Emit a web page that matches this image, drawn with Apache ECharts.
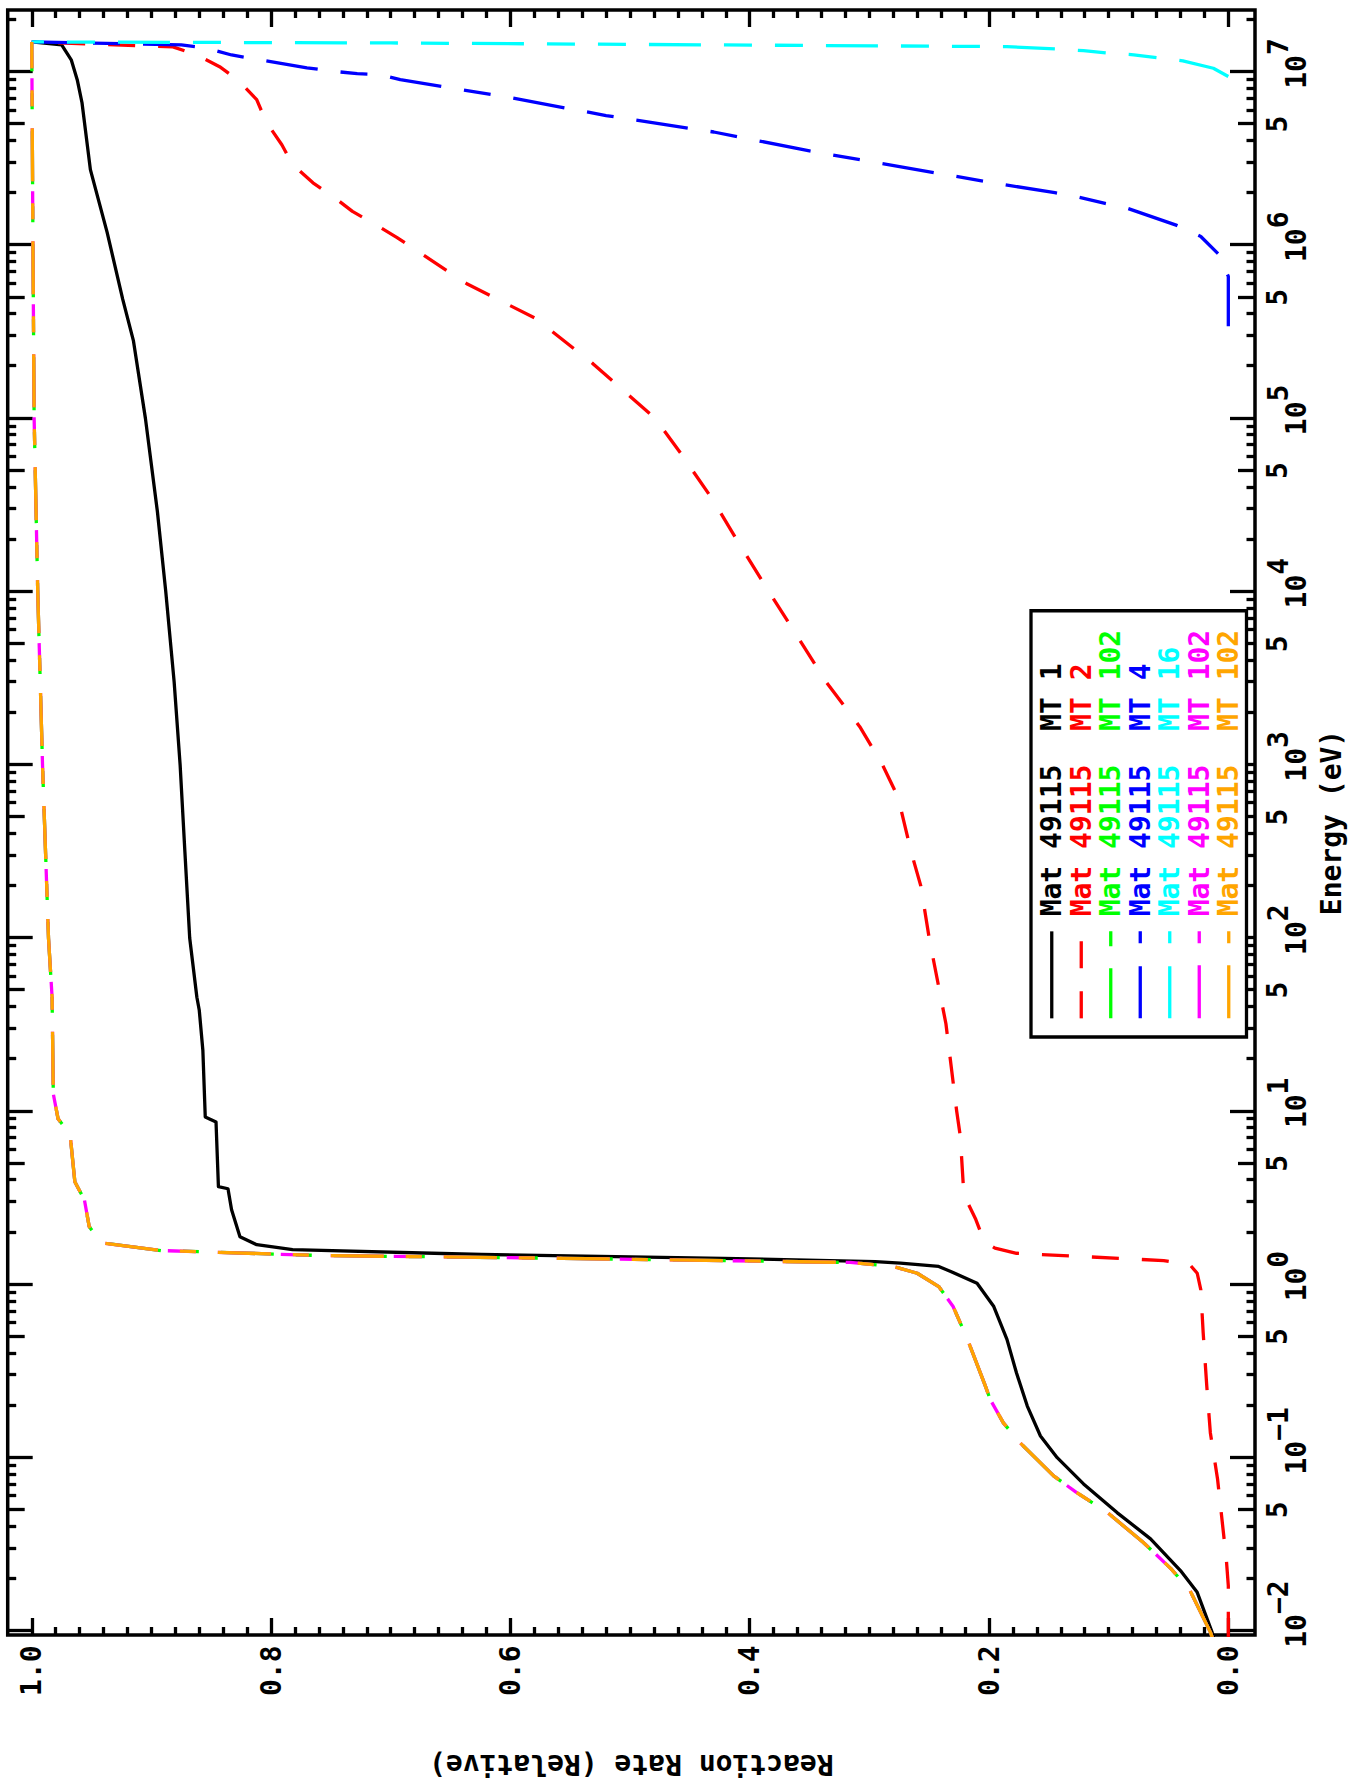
<!DOCTYPE html>
<html><head><meta charset="utf-8">
<script src="https://cdn.jsdelivr.net/npm/echarts@6/dist/echarts.min.js"></script>
<style>
html,body{margin:0;padding:0;background:#fff;width:1350px;height:1786px;overflow:hidden;}
#chart{position:absolute;left:0;top:0;width:1786px;height:1350px;transform-origin:0 0;transform:translate(0,1786px) rotate(-90deg);background:#fff;}
</style></head><body><div id="chart"></div>
<script>
// ---------------- data (energy in eV, relative reaction rate) ----------------
const seriesNames = ['Mat 49115  MT 1', 'Mat 49115  MT 2', 'Mat 49115  MT 102', 'Mat 49115  MT 4',
                     'Mat 49115  MT 16', 'Mat 49115  MT 102 ', 'Mat 49115  MT 102  '];
const seriesColors = ['#000000', '#ff0000', '#00ff00', '#0000ff', '#00ffff', '#ff00ff', '#ffa500'];

const totalRate = [[0.009,0.012],[0.00984,0.0136],[0.0167,0.026],[0.0223,0.040],[0.0340,0.065],[0.0482,0.093],
  [0.0706,0.121],[0.100,0.143],[0.1334,0.157],[0.1986,0.168],[0.308,0.177],[0.482,0.185],[0.746,0.196],
  [1.016,0.210],[1.189,0.232],[1.271,0.242],[1.327,0.274],[1.355,0.295],[1.416,0.422],[1.489,0.624],
  [1.589,0.782],[1.698,0.812],[1.888,0.826],[2.70,0.833],[3.57,0.836],[3.67,0.844],[8.67,0.846],[9.27,0.855],
  [22.5,0.857],[38.3,0.860],[45.5,0.862],[100,0.868],[313,0.872],[1000,0.876],[3010,0.881],[1.0e4,0.888],
  [2.9e4,0.895],[1.0e5,0.905],[2.8e5,0.915],[4.88e5,0.924],[1.186e6,0.937],[2.73e6,0.951],[6.64e6,0.958],
  [9.02e6,0.962],[1.175e7,0.967],[1.432e7,0.975],[1.49e7,1.0]];

const elasticRate = [[0.009,0.0],[0.0182,0.0],[0.0261,0.0017],[0.0753,0.009],[0.139,0.015],[0.259,0.018],
  [0.525,0.021],[0.933,0.023],[1.161,0.026],[1.297,0.032],[1.374,0.054],[1.449,0.121],[1.514,0.177],
  [1.62,0.195],[1.77,0.204],[2.37,0.211],[3.30,0.221],[7.2,0.224],[10,0.227],[32,0.236],[100,0.250],
  [200,0.257],[313,0.265],[650,0.276],[1000,0.289],[1660,0.308],[3000,0.336],[5500,0.360],[1.0e4,0.384],
  [1.85e4,0.408],[3.4e4,0.431],[6.2e4,0.457],[1.0e5,0.479],[2.07e5,0.531],[3.78e5,0.579],[5.96e5,0.636],
  [1.11e6,0.695],[1.318e6,0.713],[1.567e6,0.732],[1.905e6,0.748],[2.29e6,0.765],[2.92e6,0.782],
  [3.80e6,0.791],[5.13e6,0.804],[6.92e6,0.812],[9.02e6,0.828],[1.072e7,0.843],[1.253e7,0.862],
  [1.396e7,0.882],[1.49e7,1.0]];

const captureRate = [[0.009,0.013],[0.00984,0.015],[0.0171,0.032],[0.0229,0.048],[0.0324,0.071],[0.0482,0.101],
  [0.0631,0.127],[0.0785,0.146],[0.1219,0.174],[0.1589,0.188],[0.2168,0.199],[0.2588,0.203],[0.482,0.218],
  [0.746,0.230],[0.973,0.242],[1.161,0.260],[1.271,0.280],[1.34,0.316],[1.416,0.556],[1.469,0.758],
  [1.57,0.892],[1.73,0.939],[1.89,0.946],[2.16,0.952],[3.08,0.956],[3.92,0.964],[7.40,0.968],[9.04,0.978],
  [12.6,0.982],[45.5,0.983],[100,0.986],[1000,0.991],[1.0e4,0.995],[1.0e5,0.998],[1.0e6,0.999],[1.49e7,1.0]];

const inelasticRate = [[3.4e5,0.0],[6.6e5,0.0],[8.85e5,0.008],[1.122e6,0.023],[1.30e6,0.043],[1.63e6,0.084],
  [1.74e6,0.103],[1.89e6,0.125],[2.01e6,0.145],[2.24e6,0.188],[2.8e6,0.27],[3.5e6,0.35],[4.5e6,0.43],
  [5.6e6,0.52],[7.1e6,0.60],[9.02e6,0.692],[9.64e6,0.709],[9.77e6,0.728],[1.014e7,0.751],[1.057e7,0.770],
  [1.189e7,0.814],[1.253e7,0.833],[1.377e7,0.855],[1.432e7,0.875],[1.49e7,1.0]];

const n2nRate = [[9.42e6,0.0],[1.05e7,0.0125],[1.159e7,0.038],[1.199e7,0.055],[1.256e7,0.079],[1.282e7,0.099],
  [1.327e7,0.121],[1.352e7,0.140],[1.40e7,0.185],[1.47e7,0.70],[1.49e7,1.0]];

const seriesData = [totalRate, elasticRate, captureRate, inelasticRate, n2nRate, captureRate, captureRate];
const seriesDash = ['solid', [27,23], [53,22,16,22], [52,23,27,23], [52,23,28,23,28,23], [53,22,28,10], [53,22,16,22]];
const seriesDashOffset = [0, 0, 3, 0, 0, 0, 0];

// axis ranges and tick values
const E_MIN = 0.009471, E_MAX = 2.278e7;
const RATE_MIN = -0.0223, RATE_MAX = 1.0201;
const decadeExp = [-2,-1,0,1,2,3,4,5,6,7];
const rateMajor = [0, 0.2, 0.4, 0.6, 0.8, 1.0];

// ---------------- build ----------------
const FONT = 'DejaVu Sans Mono';
const LOG_MIN = Math.log10(E_MIN), LOG_MAX = Math.log10(E_MAX);
const fiveTicks = decadeExp.slice(0, 9).map(n => n + Math.log10(5));
const minorTicks = [];
for (let n = -3; n <= 7; n++) for (const k of [2,3,4,6,7,8,9]) {
  const v = n + Math.log10(k); if (v > LOG_MIN && v < LOG_MAX) minorTicks.push(v);
}
const rateMinor = []; for (let i = 1; i < 50; i++) if (i % 10) rateMinor.push(i / 50);

const txt = {fontFamily: FONT, fontWeight: 'bold', fontSize: 28, color: '#000'};
const CW = 16.86;

function tickX(pos, values, len, label, extra) {
  return Object.assign({
    type: 'value', position: pos, min: LOG_MIN, max: LOG_MAX, gridIndex: 0,
    axisLine: {show: false, onZero: false}, splitLine: {show: false},
    axisTick: {show: true, inside: true, length: len, customValues: values, lineStyle: {color: '#000', width: 3.3}},
    axisLabel: label ? Object.assign({customValues: values}, label) : {show: false},
    silent: true
  }, extra || {});
}
function tickY(pos, values, len, label, extra) {
  return Object.assign({
    type: 'value', position: pos, min: RATE_MIN, max: RATE_MAX, gridIndex: 0,
    axisLine: {show: false, onZero: false}, splitLine: {show: false},
    axisTick: {show: true, inside: true, length: len, customValues: values, lineStyle: {color: '#000', width: 3.3}},
    axisLabel: label ? Object.assign({customValues: values}, label) : {show: false},
    silent: true
  }, extra || {});
}

const decadeLabel = {
  show: true, margin: 9.5,
  formatter: v => { const n = Math.round(v); const s = n < 0 ? '\u2212' + (-n) : String(n);
                    return '{b' + s.length + '|10}{e|' + s + '}'; },
  rich: {
    b1: Object.assign({}, txt, {lineHeight: 22, verticalAlign: 'top', padding: [18, 0, 0, CW]}),
    b2: Object.assign({}, txt, {lineHeight: 22, verticalAlign: 'top', padding: [18, 0, 0, 2 * CW]}),
    e: Object.assign({}, txt, {lineHeight: 22, verticalAlign: 'top'})
  }
};
const fiveLabel = Object.assign({show: true, margin: 11, lineHeight: 22, formatter: () => '5'}, txt);
const rateLabel = Object.assign({show: true, margin: 10.5, padding: [0, 0, 15, 0], formatter: v => v.toFixed(1)}, txt);

const xAxes = [
  {type: 'log', logBase: 10, min: E_MIN, max: E_MAX, show: false, gridIndex: 0,
   axisLine: {onZero: false}, splitLine: {show: false}},
  tickX('bottom', decadeExp, 25, decadeLabel,
        {name: 'Energy (eV)', nameLocation: 'middle', nameGap: 62, nameTextStyle: txt}),
  tickX('bottom', fiveTicks, 17, fiveLabel),
  tickX('bottom', minorTicks, 8.5, null),
  tickX('top', decadeExp, 25, null),
  tickX('top', fiveTicks, 17, null),
  tickX('top', minorTicks, 8.5, null)
];
const yAxes = [
  tickY('left', rateMajor, 17, rateLabel,
        {name: 'Reaction Rate (Relative)', nameLocation: 'middle', nameRotate: 90, nameGap: 115, nameTextStyle: txt}),
  tickY('left', rateMinor, 8, null),
  tickY('right', rateMajor, 17, null),
  tickY('right', rateMinor, 8, null)
];

const series = seriesNames.map((name, i) => ({
  type: 'line', name, data: seriesData[i], xAxisIndex: 0, yAxisIndex: 0,
  symbol: 'none', showSymbol: false, smooth: false, clip: true, silent: true, animation: false,
  lineStyle: {color: seriesColors[i], width: 3.3, type: seriesDash[i], dashOffset: seriesDashOffset[i], cap: 'butt', join: 'round'},
  itemStyle: {color: seriesColors[i]}, z: 2 + i
}));

const chart = echarts.init(document.getElementById('chart'), null, {renderer: 'svg'});
chart.setOption({
  animation: false,
  backgroundColor: '#fff',
  grid: {left: 146.5, right: 10, top: 7.7, bottom: 95, show: true, borderColor: '#000', borderWidth: 3.5,
         backgroundColor: 'transparent', containLabel: false},
  xAxis: xAxes,
  yAxis: yAxes,
  legend: {
    orient: 'vertical', left: 749, top: 1031, padding: [6, 19, 3, 17],
    itemWidth: 87, itemHeight: 2, itemGap: 0, selectedMode: false,
    backgroundColor: '#fff', borderColor: '#000', borderWidth: 3.3,
    lineStyle: {width: 3.3},
    itemStyle: {opacity: 0, borderWidth: 0},
    textStyle: Object.assign({}, txt, {lineHeight: 29.5, padding: [0, 0, 0, 10]}),
    formatter: n => n.trim(),
    data: seriesNames.map((n, i) => ({name: n, textStyle: {color: seriesColors[i]}}))
  },
  series
});
</script></body></html>
